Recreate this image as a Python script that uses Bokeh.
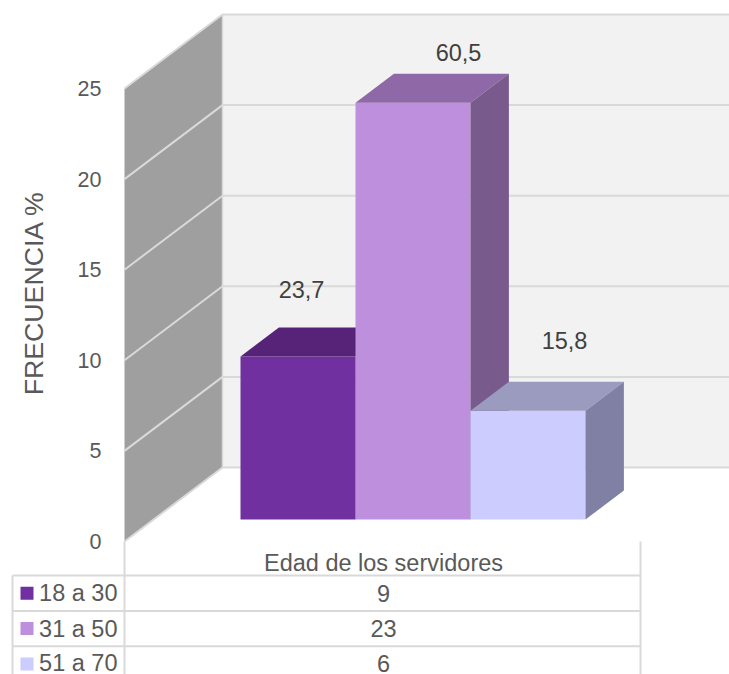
from bokeh.embed import file_html
from bokeh.resources import INLINE
from bokeh.plotting import figure
from bokeh.models import Range1d
from bokeh.core.properties import value
import math

# Data
groups = ["18 a 30", "31 a 50", "51 a 70"]
counts = [9, 23, 6]
percents = ["23,7", "60,5", "15,8"]
ticks = [0, 5, 10, 15, 20, 25]
axis_title = "FRECUENCIA %"
table_title = "Edad de los servidores"

# Face colours per series: front, top, side
front = ["#7030a0", "#bd8fdd", "#ccccff"]
top = ["#562379", "#8f69a7", "#9b9bc0"]
side = ["#542478", "#785b8c", "#8080a4"]

W, H = 729, 674
FONT = value("Liberation Sans")
TEXT = "#595959"
CAPTION = "#404040"
RULE = "#d9d9d9"

# Oblique projection: pixels per value unit, and the pixel row of value 0 on the front edge
PX_PER_UNIT = 18.12
ZERO_ROW = 541
WALL_LEFT = 124
WALL_DX = 98
WALL_DY = 74 / PX_PER_UNIT
AXIS_MAX = 25

p = figure(width=W, height=H, output_backend="svg", toolbar_location=None,
           x_range=Range1d(0, W),
           y_range=Range1d((ZERO_ROW - H) / PX_PER_UNIT, ZERO_ROW / PX_PER_UNIT),
           min_border=0, x_axis_location=None, y_axis_location=None,
           outline_line_color=None)
p.xgrid.visible = False
p.ygrid.visible = False
p.background_fill_color = "white"
p.border_fill_color = "white"

# Second vertical scale in window rows for the table under the chart
p.extra_y_ranges = {"rows": Range1d(H, 0)}

back_x = WALL_LEFT + WALL_DX

# Back wall and left wall
p.patch([back_x, W, W, back_x],
        [WALL_DY, WALL_DY, AXIS_MAX + WALL_DY, AXIS_MAX + WALL_DY],
        fill_color="#f2f2f2", line_color=None)
p.patch([WALL_LEFT, back_x, back_x, WALL_LEFT],
        [0, WALL_DY, AXIS_MAX + WALL_DY, AXIS_MAX],
        fill_color="#9f9f9f", line_color=None)

# Gridlines wrap from the left wall onto the back wall
for t in ticks:
    p.line([WALL_LEFT, back_x, W], [t, t + WALL_DY, t + WALL_DY],
           line_color=RULE, line_width=2)
p.line([back_x, back_x], [WALL_DY, AXIS_MAX + WALL_DY], line_color=RULE, line_width=1.5)

# Value axis labels and title
p.text([WALL_LEFT - 23] * len(ticks), ticks, text=[str(t) for t in ticks],
       text_font=FONT, text_font_size="21.5px", text_color=TEXT,
       text_align="right", text_baseline="middle")
p.text([33], [292.5], text=[axis_title], angle=math.pi / 2, y_range_name="rows",
       text_font=FONT, text_font_size="26.7px", text_color=TEXT,
       text_align="center", text_baseline="middle")

# Bars: front plane and depth expressed as fractions of the floor depth
BAR_X0 = 240
BAR_W = 115
DEPTH_NEAR = 22 / 74
DEPTH_FAR = 51 / 74
base = DEPTH_NEAR * WALL_DY
dx = (DEPTH_FAR - DEPTH_NEAR) * WALL_DX
dy = (DEPTH_FAR - DEPTH_NEAR) * WALL_DY

for i, c in enumerate(counts):
    x0 = BAR_X0 + i * BAR_W
    x1 = x0 + BAR_W
    y0 = base
    y1 = base + c
    p.patch([x0, x1, x1, x0], [y0, y0, y1, y1], fill_color=front[i], line_color=None)
    p.patch([x0, x1, x1 + dx, x0 + dx], [y1, y1, y1 + dy, y1 + dy],
            fill_color=top[i], line_color=None)
    p.patch([x1, x1 + dx, x1 + dx, x1], [y0, y0 + dy, y1 + dy, y1],
            fill_color=side[i], line_color=None)

# Percentage captions placed above each bar
caption_dx = [61, 103, 94]
caption_dy = [67, 50, 70]
for i, c in enumerate(counts):
    p.text([BAR_X0 + i * BAR_W + caption_dx[i]], [base + c + caption_dy[i] / PX_PER_UNIT],
           text=[percents[i]], text_font=FONT, text_font_size="23.5px",
           text_color=CAPTION, text_align="center", text_baseline="middle")

# Data table under the chart
TABLE_LEFT, TABLE_MID, TABLE_RIGHT = 12, 124, 640
HEAD_ROW = 575
ROW_H = 35.4


def rule(xs, rows):
    p.line(xs, rows, y_range_name="rows", line_color=RULE, line_width=2)


def cell(x, row, text, align):
    p.text([x], [row], text=[text], y_range_name="rows", text_font=FONT,
           text_font_size="23.5px", text_color=TEXT, text_align=align,
           text_baseline="middle")


for i in range(3):
    r = HEAD_ROW + i * ROW_H
    rule([TABLE_LEFT, TABLE_RIGHT], [r, r])
rule([TABLE_LEFT, TABLE_LEFT], [HEAD_ROW, H])
rule([TABLE_MID, TABLE_MID], [ZERO_ROW, H])
rule([TABLE_RIGHT, TABLE_RIGHT], [ZERO_ROW, H])

center = (TABLE_MID + TABLE_RIGHT) / 2 + 1
cell(center, HEAD_ROW - 13, table_title, "center")
for i, (g, c) in enumerate(zip(groups, counts)):
    mid = HEAD_ROW + ROW_H * (i + 0.5)
    p.quad(left=20, right=33, top=mid - 6.5, bottom=mid + 6.5, y_range_name="rows",
           fill_color=front[i], line_color=None)
    cell(117, mid - (1 if i == 2 else 0), g, "right")
    cell(center, mid - (1 if i == 2 else 0), str(c), "center")

open("out.html", "w").write(file_html(p, INLINE))
